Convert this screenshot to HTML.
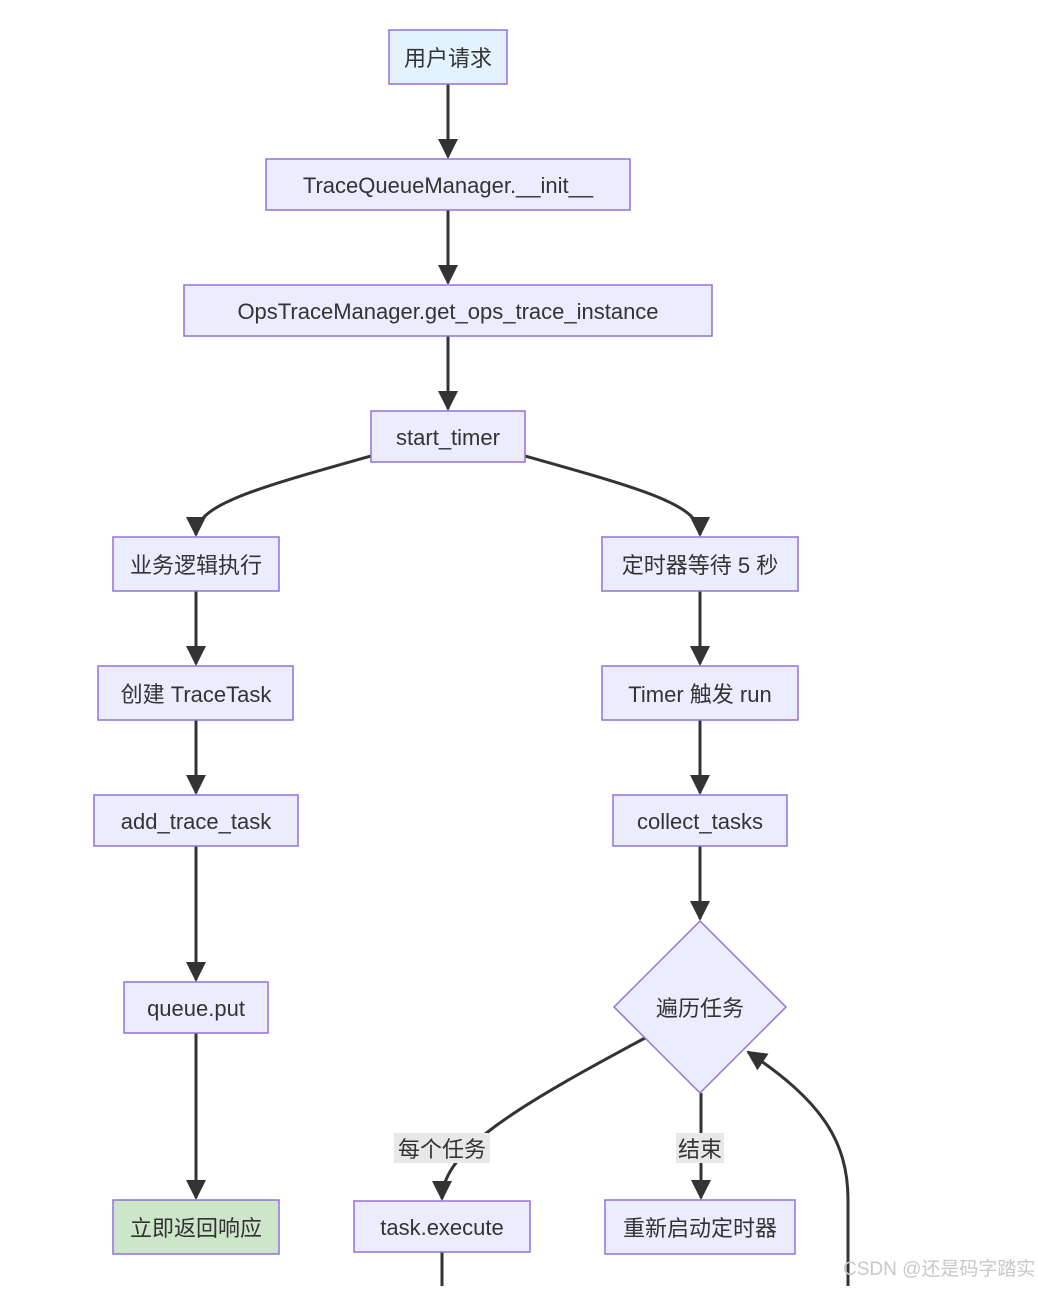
<!DOCTYPE html>
<html><head><meta charset="utf-8"><style>
body{margin:0;background:#fff;}
svg text{font-family:"Liberation Sans","Noto Sans CJK SC",sans-serif;font-size:22px;fill:#333;}
</style></head><body>
<svg width="1038" height="1286" viewBox="0 0 1038 1286" xmlns="http://www.w3.org/2000/svg">
<defs><marker id="a" viewBox="0 0 10 10" refX="9" refY="5" markerWidth="8" markerHeight="8" markerUnits="userSpaceOnUse" orient="auto"><path d="M0,0L10,5L0,10z" fill="#333"/></marker>
<marker id="b" viewBox="0 0 10 10" refX="9" refY="5" markerWidth="20" markerHeight="20" markerUnits="userSpaceOnUse" orient="auto"><path d="M0,0L10,5L0,10z" fill="#333"/></marker></defs>
<g stroke="#333" stroke-width="3" fill="none" marker-end="url(#b)">
<path d="M448,84V157"/>
<path d="M448,210V283"/>
<path d="M448,336V409"/>
<path d="M371,456C250,490 196,505 196,535"/>
<path d="M525,456C646,490 700,505 700,535"/>
<path d="M196,591V664"/>
<path d="M700,591V664"/>
<path d="M196,720V793"/>
<path d="M700,720V793"/>
<path d="M196,846V980"/>
<path d="M700,846V919"/>
<path d="M196,1033V1198"/>
<path d="M645,1038C520,1105 442,1150 442,1199"/>
<path d="M701,1093V1198"/>
<path d="M848,1286V1200C848,1140 820,1100 748,1052"/>
</g>
<path d="M442,1252V1286" stroke="#333" stroke-width="3"/>
<g stroke="#9370DB" stroke-width="1.5">
<rect x="389" y="30" width="118" height="54" fill="#E3F2FD"/>
<rect x="266" y="159" width="364" height="51" fill="#ECECFF"/>
<rect x="184" y="285" width="528" height="51" fill="#ECECFF"/>
<rect x="371" y="411" width="154" height="51" fill="#ECECFF"/>
<rect x="113" y="537" width="166" height="54" fill="#ECECFF"/>
<rect x="602" y="537" width="196" height="54" fill="#ECECFF"/>
<rect x="98" y="666" width="195" height="54" fill="#ECECFF"/>
<rect x="602" y="666" width="196" height="54" fill="#ECECFF"/>
<rect x="94" y="795" width="204" height="51" fill="#ECECFF"/>
<rect x="613" y="795" width="174" height="51" fill="#ECECFF"/>
<rect x="124" y="982" width="144" height="51" fill="#ECECFF"/>
<path d="M700,921L786,1007L700,1093L614,1007Z" fill="#ECECFF"/>
<rect x="113" y="1200" width="166" height="54" fill="#CDE5C8"/>
<rect x="354" y="1201" width="176" height="51" fill="#ECECFF"/>
<rect x="605" y="1200" width="190" height="54" fill="#ECECFF"/>
</g>
<rect x="394" y="1133" width="96" height="30" fill="#e8e8e8"/>
<rect x="676" y="1133" width="48" height="30" fill="#e8e8e8"/>
<g text-anchor="middle">
<text x="448" y="66">用户请求</text>
<text x="448" y="193">TraceQueueManager.__init__</text>
<text x="448" y="319">OpsTraceManager.get_ops_trace_instance</text>
<text x="448" y="445">start_timer</text>
<text x="196" y="573">业务逻辑执行</text>
<text x="700" y="573">定时器等待 5 秒</text>
<text x="196" y="702">创建 TraceTask</text>
<text x="700" y="702">Timer 触发 run</text>
<text x="196" y="829">add_trace_task</text>
<text x="700" y="829">collect_tasks</text>
<text x="196" y="1016">queue.put</text>
<text x="700" y="1016">遍历任务</text>
<text x="196" y="1236">立即返回响应</text>
<text x="442" y="1235">task.execute</text>
<text x="700" y="1236">重新启动定时器</text>
<text x="442" y="1157">每个任务</text>
<text x="700" y="1157">结束</text>
</g>
<text x="843" y="1275" style="font-size:19px;fill:#c8c8c8">CSDN @还是码字踏实</text>
</svg>
</body></html>
